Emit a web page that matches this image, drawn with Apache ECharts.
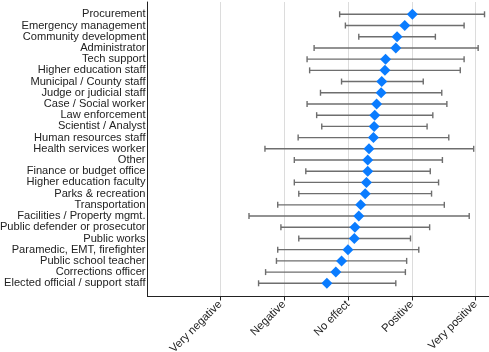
<!DOCTYPE html>
<html>
<head>
<meta charset="utf-8">
<script src="https://cdn.jsdelivr.net/npm/echarts@6/dist/echarts.min.js"></script>
<style>
  html, body { margin: 0; padding: 0; background: #fff; }
  #chart { width: 489px; height: 352px; }
</style>
</head>
<body>
<div id="chart"></div>
<script>
// Job categories, top to bottom
const categories = [
  'Procurement', 'Emergency management', 'Community development', 'Administrator',
  'Tech support', 'Higher education staff', 'Municipal / County staff',
  'Judge or judicial staff', 'Case / Social worker', 'Law enforcement',
  'Scientist / Analyst', 'Human resources staff', 'Health services worker', 'Other',
  'Finance or budget office', 'Higher education faculty', 'Parks & recreation',
  'Transportation', 'Facilities / Property mgmt.', 'Public defender or prosecutor',
  'Public works', 'Paramedic, EMT, firefighter', 'Public school teacher',
  'Corrections officer', 'Elected official / support staff'
];

// Mean effect (-2 = very negative ... 2 = very positive)
const means = [
  1.01, 0.89, 0.77, 0.75, 0.59, 0.58, 0.53, 0.52, 0.45, 0.42, 0.41, 0.40, 0.33,
  0.31, 0.31, 0.29, 0.27, 0.20, 0.17, 0.11, 0.10, 0.00, -0.10, -0.19, -0.33
];

// Lower and upper ends of the interval
const lower = [
  -0.13, -0.04, 0.17, -0.53, -0.64, -0.60, -0.10, -0.43, -0.64, -0.49, -0.41, -0.78, -1.30,
  -0.84, -0.66, -0.84, -0.77, -1.10, -1.55, -1.05, -0.77, -1.10, -1.12, -1.29, -1.40
];
const upper = [
  2.14, 1.82, 1.37, 2.04, 1.82, 1.76, 1.18, 1.47, 1.55, 1.33, 1.24, 1.58, 1.97,
  1.48, 1.29, 1.42, 1.31, 1.51, 1.90, 1.28, 0.98, 1.11, 0.92, 0.90, 0.75
];

// Scale tick values and their labels
const tickValues = [-2, -1, 0, 1, 2];
const tickLabels = ['Very negative', 'Negative', 'No effect', 'Positive', 'Very positive'];

const X_MIN = -3.14, X_MAX = 2.21;
const FONT = '"Liberation Sans", Arial, Helvetica, sans-serif';

const chart = echarts.init(document.getElementById('chart'), null, { renderer: 'canvas' });

const errorData = categories.map((c, i) => [lower[i], upper[i], i]);
const pointData = categories.map((c, i) => [means[i], i]);

chart.setOption({
  animation: false,
  grid: [
    // frame: axis lines, gridlines and scale labels
    { left: 147.5, right: 0, top: 2, bottom: 55.5, containLabel: false, outerBoundsMode: 'none' },
    // plotting area for the categories
    { left: 147.5, right: 0, top: 8.7, height: 280.2, containLabel: false, outerBoundsMode: 'none' }
  ],
  xAxis: [
    {
      gridIndex: 0, type: 'value', min: X_MIN, max: X_MAX,
      axisLine: { show: true, onZero: false, lineStyle: { color: '#222', width: 1 } },
      axisTick: { show: true, length: 4, customValues: tickValues, lineStyle: { color: '#222' } },
      axisLabel: {
        customValues: tickValues,
        rotate: 45, margin: 6, fontSize: 11.3, color: '#222', fontFamily: FONT,
        formatter: v => tickLabels[tickValues.indexOf(v)] || ''
      },
      splitLine: { show: true, lineStyle: { color: '#dcdcdc', width: 1 } }
    },
    {
      gridIndex: 1, type: 'value', min: X_MIN, max: X_MAX, show: false,
      splitLine: { show: false }
    }
  ],
  yAxis: [
    {
      gridIndex: 0, type: 'value', min: 0, max: 1,
      axisLine: { show: true, onZero: false, lineStyle: { color: '#222', width: 1 } },
      axisTick: { show: false }, axisLabel: { show: false }, splitLine: { show: false }
    },
    {
      gridIndex: 1, type: 'category', data: categories, inverse: true,
      axisLine: { show: false }, axisTick: { show: false },
      axisLabel: { margin: 2, fontSize: 11.1, color: '#222', fontFamily: FONT, interval: 0 },
      splitLine: { show: false }
    }
  ],
  series: [
    {
      type: 'custom',
      xAxisIndex: 1, yAxisIndex: 1,
      data: errorData,
      encode: { x: [0, 1], y: 2 },
      renderItem: (params, api) => {
        const lo = api.coord([api.value(0), api.value(2)]);
        const hi = api.coord([api.value(1), api.value(2)]);
        const cap = 3;
        const style = { stroke: '#6e6e6e', lineWidth: 1.4 };
        return {
          type: 'group',
          children: [
            { type: 'line', shape: { x1: lo[0], y1: lo[1], x2: hi[0], y2: hi[1] }, style },
            { type: 'line', shape: { x1: lo[0], y1: lo[1] - cap, x2: lo[0], y2: lo[1] + cap }, style },
            { type: 'line', shape: { x1: hi[0], y1: hi[1] - cap, x2: hi[0], y2: hi[1] + cap }, style }
          ]
        };
      },
      z: 2
    },
    {
      type: 'scatter',
      xAxisIndex: 1, yAxisIndex: 1,
      data: pointData,
      symbol: 'diamond',
      symbolSize: [11, 11],
      itemStyle: { color: '#0a7cff', opacity: 1 },
      z: 3
    }
  ]
});
</script>
</body>
</html>
